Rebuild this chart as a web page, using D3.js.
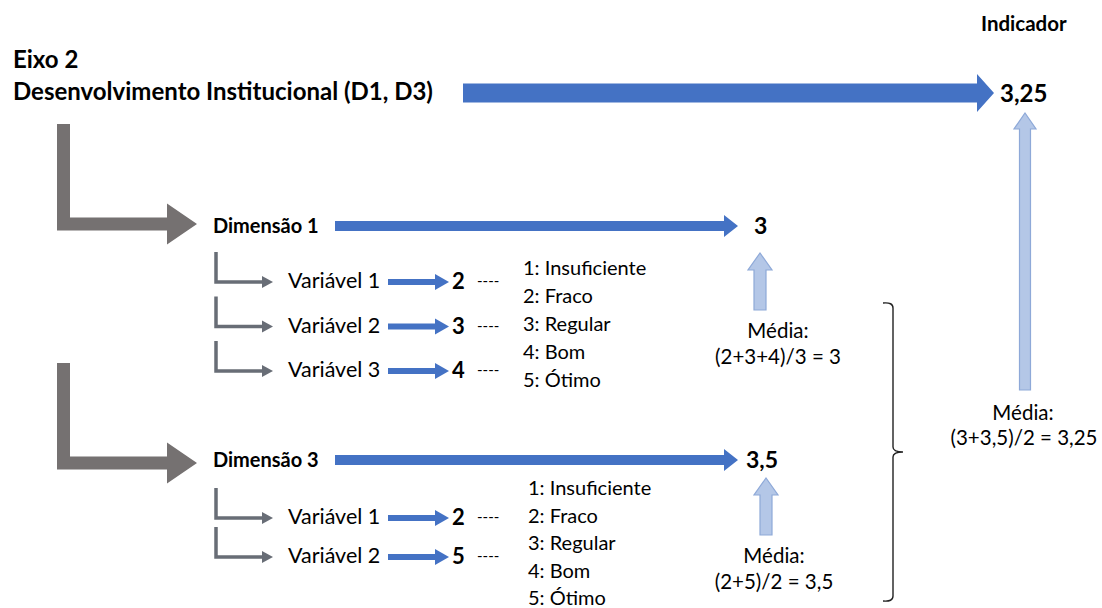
<!DOCTYPE html>
<html>
<head>
<meta charset="utf-8">
<script src="https://cdn.jsdelivr.net/npm/d3@7"></script>
<style>
  body { margin: 0; background: #fff; }
  text { font-family: Lato, "Open Sans", sans-serif; fill: #000; }
</style>
</head>
<body>
<div id="diagram"></div>
<script>
// texts and values of the diagram
const axisTitle = ["Eixo 2", "Desenvolvimento Institucional (D1, D3)"];
const indicatorLabel = "Indicador";
const indicatorValue = "3,25";
const indicatorFormula = ["Média:", "(3+3,5)/2 = 3,25"];
const dimensions = ["Dimensão 1", "Dimensão 3"];
const dimensionScores = ["3", "3,5"];
const dimensionFormulas = ["(2+3+4)/3 = 3", "(2+5)/2 = 3,5"];
const variables1 = ["Variável 1", "Variável 2", "Variável 3"];
const values1 = [2, 3, 4];
const variables3 = ["Variável 1", "Variável 2"];
const values3 = [2, 5];
const scaleLabels = ["1: Insuficiente", "2: Fraco", "3: Regular", "4: Bom", "5: Ótimo"];

const width = 1102, height = 608;
const blue = "#4472c4", gray = "#757171", grayS = "#686d76";
const light = "#b4c7e7", lightStroke = "#8ea9d8";

const svg = d3.select("#diagram")
  .append("svg")
  .attr("width", width)
  .attr("height", height);

// block arrow pointing right
function arrowRight(g, x0, x1, cy, shaft, headLen, headH, fill) {
  const p = d3.path();
  p.moveTo(x0, cy - shaft / 2);
  p.lineTo(x1 - headLen, cy - shaft / 2);
  p.lineTo(x1 - headLen, cy - headH / 2);
  p.lineTo(x1, cy);
  p.lineTo(x1 - headLen, cy + headH / 2);
  p.lineTo(x1 - headLen, cy + shaft / 2);
  p.lineTo(x0, cy + shaft / 2);
  p.closePath();
  g.append("path").attr("d", p.toString()).attr("fill", fill);
}

// block arrow pointing up (light blue, outlined)
function arrowUp(g, cx, tip, bottom, shaft, headW, headLen) {
  const p = d3.path();
  p.moveTo(cx - shaft / 2, bottom);
  p.lineTo(cx - shaft / 2, tip + headLen);
  p.lineTo(cx - headW / 2, tip + headLen);
  p.lineTo(cx, tip);
  p.lineTo(cx + headW / 2, tip + headLen);
  p.lineTo(cx + shaft / 2, tip + headLen);
  p.lineTo(cx + shaft / 2, bottom);
  p.closePath();
  g.append("path").attr("d", p.toString())
    .attr("fill", light).attr("stroke", lightStroke).attr("stroke-width", 1.2);
}

// big bent arrow (L shape)
function bentArrow(g, x, top, cy, bar, tipX, headLen, headH, fill) {
  const p = d3.path();
  p.moveTo(x, top);
  p.lineTo(x + bar, top);
  p.lineTo(x + bar, cy - bar / 2);
  p.lineTo(tipX - headLen, cy - bar / 2);
  p.lineTo(tipX - headLen, cy - headH / 2);
  p.lineTo(tipX, cy);
  p.lineTo(tipX - headLen, cy + headH / 2);
  p.lineTo(tipX - headLen, cy + bar / 2);
  p.lineTo(x, cy + bar / 2);
  p.closePath();
  g.append("path").attr("d", p.toString()).attr("fill", fill);
}

// thin bent arrow
function smallBent(g, x, top, cy, tipX) {
  g.append("path")
    .attr("d", `M${x},${top}V${cy}H${tipX - 10}`)
    .attr("fill", "none").attr("stroke", grayS).attr("stroke-width", 3.5);
  g.append("path")
    .attr("d", `M${tipX - 11},${cy - 6}L${tipX},${cy}L${tipX - 11},${cy + 6}Z`)
    .attr("fill", grayS);
}

function label(x, y, str, size, weight, anchor) {
  return svg.append("text")
    .attr("x", x).attr("y", y)
    .attr("font-size", size)
    .attr("font-weight", weight || "normal")
    .attr("text-anchor", anchor || "start")
    .text(str);
}

// header
label(13, 68, axisTitle[0], 24, "bold");
label(13, 100, axisTitle[1], 24, "bold");
label(981, 31, indicatorLabel, 20.5, "bold");
label(1000, 102, indicatorValue, 24, "bold");
arrowRight(svg, 463, 994, 93, 19, 17, 38, blue);

// indicator average
arrowUp(svg, 1025, 113, 390, 11, 22, 16);
label(1023, 420, indicatorFormula[0], 20.5, "normal", "middle");
label(1024, 445, indicatorFormula[1], 20.5, "normal", "middle");

// bracket grouping the two dimensions
svg.append("path")
  .attr("d", "M883,303 Q893,302 893,308 V447 Q893,452 903,452 Q893,452 893,457 V596 Q893,602 883,601")
  .attr("fill", "none").attr("stroke", "#222").attr("stroke-width", 1.4);

// layout for each dimension block
const blocks = [
  {name: dimensions[0], score: dimensionScores[0], formula: dimensionFormulas[0],
   vars: variables1, vals: values1,
   lTop: 124, lY: 224, dimY: 226, rows: [282, 371], scaleY: [275, 387], scaleX: 523,
   scoreX: 754, mediaX: 760, mediaTip: 253, mediaBottom: 310, textX: 778, textY: 338},
  {name: dimensions[1], score: dimensionScores[1], formula: dimensionFormulas[1],
   vars: variables3, vals: values3,
   lTop: 363, lY: 463, dimY: 460, rows: [518, 557], scaleY: [495, 605], scaleX: 528,
   scoreX: 746, mediaX: 766, mediaTip: 478, mediaBottom: 535, textX: 774, textY: 563}
];

blocks.forEach((b) => {
  bentArrow(svg, 57, b.lTop, b.lY, 13, 197, 30, 41, gray);
  label(213, b.dimY + 6.5, b.name, 20, "bold");
  arrowRight(svg, 335, 738, b.dimY, 10, 14, 22, blue);
  label(b.scoreX, b.dimY + 7.5, b.score, 23, "bold");

  // variable rows
  const yRow = d3.scaleLinear()
    .domain([0, b.vars.length - 1])
    .range(b.rows);
  b.vars.forEach((v, i) => {
    const y = yRow(i);
    smallBent(svg, 216, y - 30, y, 273);
    label(288, y + 6, v, 21.5);
    arrowRight(svg, 388, 449, y, 6, 14, 16, blue);
    label(452, y + 7, b.vals[i], 22, "bold");
    label(477, y + 4, "----", 15);
  });

  // rating scale
  const yScale = d3.scaleLinear()
    .domain([0, scaleLabels.length - 1])
    .range(b.scaleY);
  scaleLabels.forEach((s, i) => label(b.scaleX, yScale(i), s, 20));

  // average
  arrowUp(svg, b.mediaX, b.mediaTip, b.mediaBottom, 12, 24, 17);
  label(b.textX, b.textY, "Média:", 20.5, "normal", "middle");
  label(b.textX, b.textY + 26, b.formula, 20.5, "normal", "middle");
});
</script>
</body>
</html>
